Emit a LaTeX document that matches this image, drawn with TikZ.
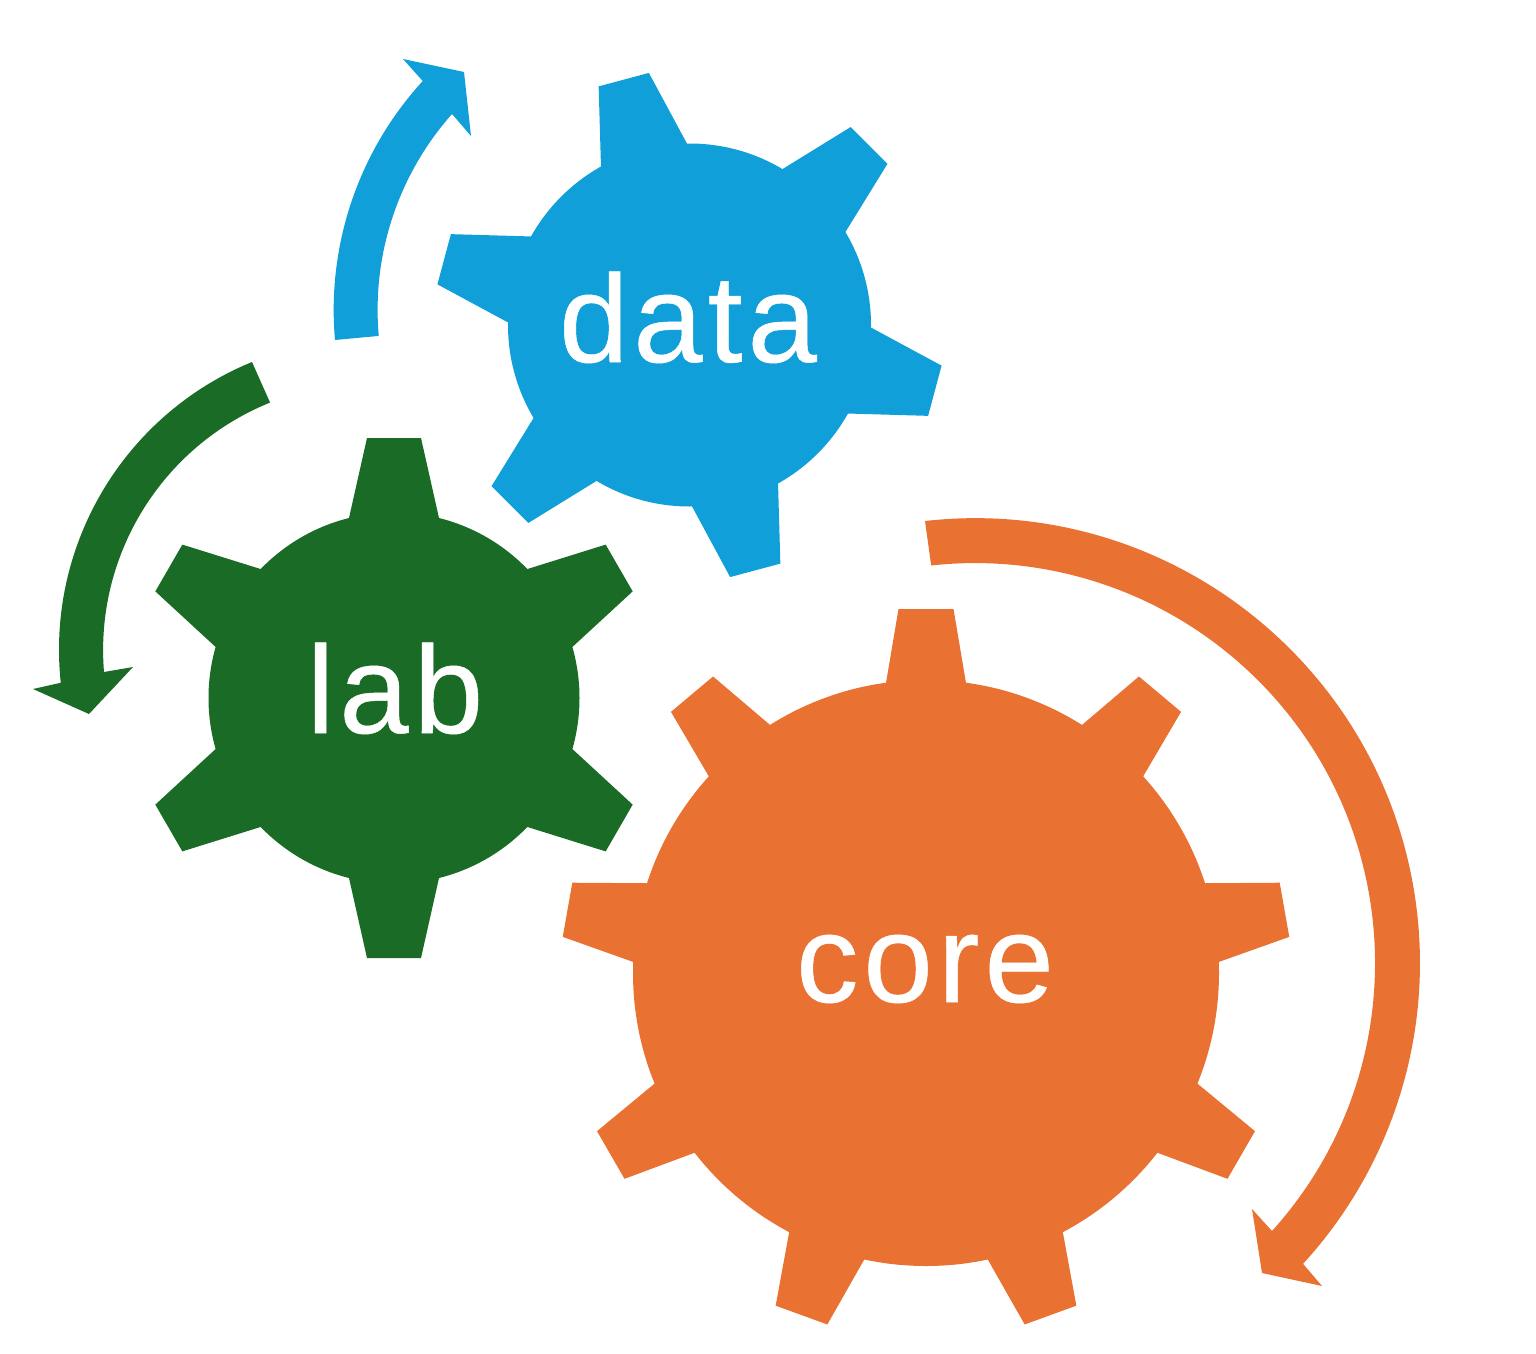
\documentclass[tikz,border=0pt]{standalone}
\usepackage{fontspec}
\newfontfamily\gearfont[LetterSpace=4,FakeBold=0.4]{Liberation Sans}
\definecolor{dataBlue}{HTML}{109FD8}
\definecolor{labGreen}{HTML}{1A6B25}
\definecolor{coreOrange}{HTML}{E97132}
\tikzset{gearlabel/.style={anchor=base,text=white,inner sep=0pt,font=\gearfont\fontsize{35.5}{35.5}\selectfont}}
\begin{document}
\begin{tikzpicture}[x=0.01cm,y=0.01cm]
 \useasboundingbox (0,0) rectangle (1536,1353);
 \fill[dataBlue](689.5,1028) circle (181.5);
 \foreach \a in {15,75,135,195,255,315}
  \fill[dataBlue,shift={(689.5,1028)},rotate=\a](0,0)--(-44.5,176)--(-26,254)--(26,254)--(44.5,176)--cycle;
 \fill[labGreen](394,655) circle (185.5);
 \foreach \a in {0,60,120,180,240,300}
  \fill[labGreen,shift={(394,655)},rotate=\a](0,0)--(-45,180)--(-27,260)--(27,260)--(45,180)--cycle;
 \fill[coreOrange](926,380) circle (293);
 \foreach \a in {0,40,80,120,160,200,240,280,320}
  \fill[coreOrange,shift={(926,380)},rotate=\a](0,0)--(-40,290)--(-27.5,364)--(27.5,364)--(40,290)--cycle;
 \fill[dataBlue](335,1013) arc[start angle=185.07,end angle=137.5,radius=339]--(403,1294)--(464,1281)--(471,1217)--(452,1239) arc[start angle=138.4,end angle=185.07,radius=295]--cycle;
 \fill[labGreen](252,991) arc[start angle=112.3,end angle=186.1,radius=311]--(33,664)--(89,639)--(133,686)--(104,681) arc[start angle=184.7,end angle=112,radius=267]--cycle;
 \fill[coreOrange](925,832) arc[start angle=96.45,end angle=-42.5,radius=445]--(1322,67)--(1262,80)--(1252,144)--(1272,122) arc[start angle=-42.06,end angle=96.3,radius=400]--cycle;
 \node[gearlabel] (datalabel) at (688,991) {data};
 \node[gearlabel] (lablabel) at (395,620) {lab};
 \node[gearlabel] (corelabel) at (925,351) {core};
\end{tikzpicture}
\end{document}
